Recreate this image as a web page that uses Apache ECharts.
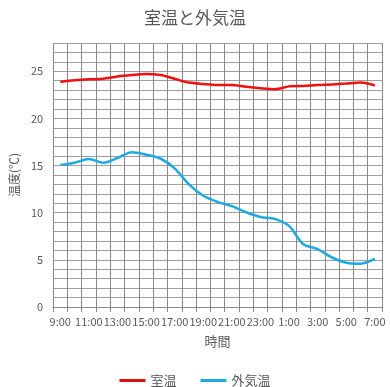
<!DOCTYPE html>
<html><head><meta charset="utf-8">
<script src="https://cdn.jsdelivr.net/npm/echarts@6/dist/echarts.min.js"></script>
<style>html,body{margin:0;padding:0;background:#fff}#c{width:390px;height:387px}</style>
</head><body><div id="c"></div>
<script>
const categories = ['9:00','10:00','11:00','12:00','13:00','14:00','15:00','16:00','17:00','18:00','19:00','20:00','21:00','22:00','23:00','0:00','1:00','2:00','3:00','4:00','5:00','6:00','7:00'];
const roomTemp = [23.9,24.05,24.15,24.2,24.45,24.6,24.7,24.6,24.2,23.8,23.65,23.55,23.55,23.35,23.2,23.1,23.4,23.45,23.55,23.6,23.7,23.8,23.5];
const outsideTemp = [15.05,15.3,15.7,15.3,15.8,16.4,16.15,15.75,14.7,13.0,11.8,11.15,10.7,10.05,9.55,9.35,8.6,6.65,6.15,5.25,4.7,4.6,5.1];
const yTickLabels = [0,5,10,15,20,25];

const font = '"Noto Sans CJK JP", "Noto Sans", sans-serif';
const chart = echarts.init(document.getElementById('c'));
chart.setOption({
  animation: false,
  textStyle: {fontFamily: font},
  title: {text: '室温と外気温', left: 'center', top: 4,
    textStyle: {fontFamily: font, fontSize: 17, fontWeight: 'normal', color: '#595959'}},
  grid: {left: 50, right: 8, top: 43, bottom: 80},
  legend: {bottom: 0, padding: [0, 5, 0, 5], left: 'center', itemWidth: 26, itemHeight: 3, itemGap: 24, icon: 'rect',
    textStyle: {fontFamily: font, fontSize: 13, color: '#595959'},
    data: ['室温','外気温']},
  xAxis: {
    type: 'category', data: categories, boundaryGap: true,
    name: '時間', nameLocation: 'middle', nameGap: 28,
    nameTextStyle: {fontFamily: font, fontSize: 13, color: '#595959'},
    axisLine: {lineStyle: {color: '#888'}},
    axisTick: {show: true, interval: 0, length: 5, lineStyle: {color: '#888'}},
    axisLabel: {interval: 1, color: '#595959', fontSize: 11, margin: 9, fontFamily: font},
    splitLine: {show: true, interval: 0, lineStyle: {color: '#8a8a8a', width: 1}}
  },
  yAxis: {
    type: 'value', min: 0, max: 28, interval: 1,
    name: '温度(℃)', nameLocation: 'middle', nameGap: 30, nameRotate: 90,
    nameTextStyle: {fontFamily: font, fontSize: 12, color: '#595959'},
    axisLine: {show: false}, axisTick: {show: false},
    axisLabel: {color: '#595959', fontSize: 11, margin: 10, fontFamily: font,
      formatter: v => yTickLabels.includes(v) ? String(v) : ''},
    splitLine: {show: true, lineStyle: {color: '#a0a0a0', width: 1}}
  },
  series: [
    {name: '室温', type: 'line', data: roomTemp, showSymbol: false, symbol: 'none', smooth: 0.3,
      lineStyle: {color: '#f01010', width: 2.5}, itemStyle: {color: '#e01010'}},
    {name: '外気温', type: 'line', data: outsideTemp, showSymbol: false, symbol: 'none', smooth: 0.3,
      lineStyle: {color: '#1ca9e6', width: 2.5}, itemStyle: {color: '#1ca9e6'}}
  ]
});
</script></body></html>
